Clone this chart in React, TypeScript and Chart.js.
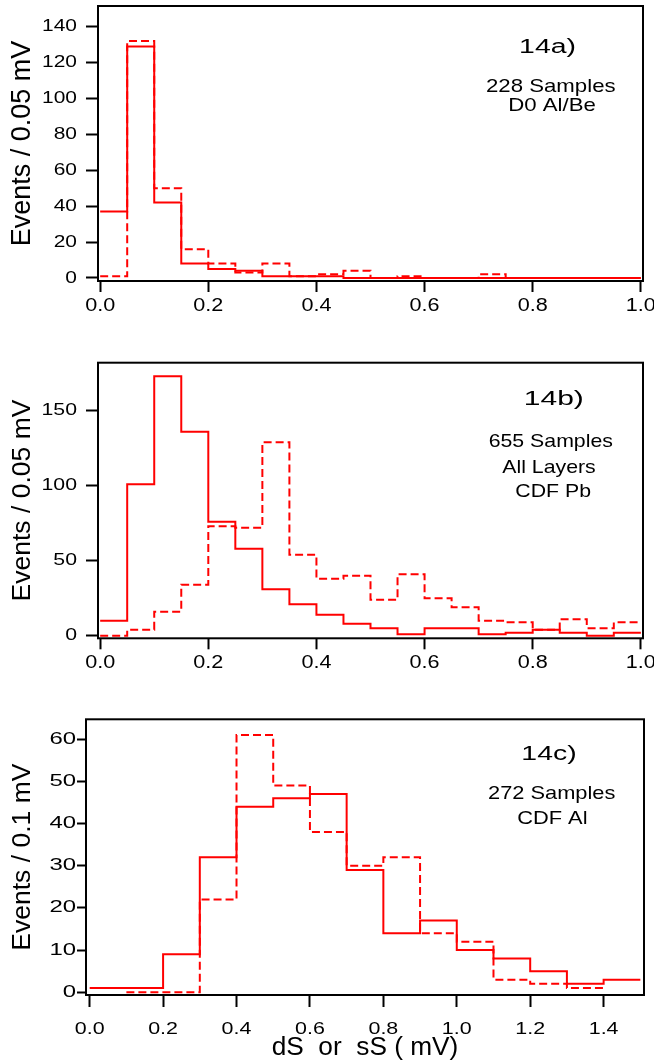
import React, { useEffect, useRef } from "react";
import { Chart, registerables } from "chart.js";

Chart.register(...registerables);

const FONT = '"Liberation Sans", Arial, Helvetica, sans-serif';
const RED = "#ff0000";

// ---------- Panel 14a ----------
const binWidthA = 0.05;
const solidA = [37, 129, 42, 8, 5, 4, 1, 1, 1, 0, 0, 0, 0, 0, 0, 0, 0, 0, 0, 0];
const dashedA = [1, 132, 50, 16, 8, 3, 8, 1, 2, 4, 0, 1, 0, 0, 2, 0, 0, 0, 0, 0];
const xTicksA = [0, 0.2, 0.4, 0.6, 0.8, 1.0];
const yTicksA = [0, 20, 40, 60, 80, 100, 120, 140];
const yTitleA = "Events / 0.05 mV";
const textA = ["14a)", "228 Samples", "D0 Al/Be"];

// ---------- Panel 14b ----------
const binWidthB = 0.05;
const solidB = [10, 101, 173, 136, 76, 58, 31, 21, 14, 8, 5, 1, 5, 5, 1, 2, 4, 2, 0, 2];
const dashedB = [0, 4, 16, 34, 73, 72, 129, 54, 38, 40, 24, 41, 25, 19, 10, 9, 4, 11, 5, 9];
const xTicksB = [0, 0.2, 0.4, 0.6, 0.8, 1.0];
const yTicksB = [0, 50, 100, 150];
const yTitleB = "Events / 0.05 mV";
const textB = ["14b)", "655 Samples", "All Layers", "CDF Pb"];

// ---------- Panel 14c ----------
const binWidthC = 0.1;
const solidC = [1, 1, 9, 32, 44, 46, 47, 29, 14, 17, 10, 8, 5, 2, 3];
const dashedC: (number | null)[] = [null, 0, 0, 22, 61, 49, 38, 30, 32, 14, 12, 3, 2, 1];
const xTicksC = [0, 0.2, 0.4, 0.6, 0.8, 1.0, 1.2, 1.4];
const yTicksC = [0, 10, 20, 30, 40, 50, 60];
const yTitleC = "Events / 0.1 mV";
const xTitleC = "dS  or  sS ( mV)";
const textC = ["14c)", "272 Samples", "CDF Al"];

function stepPoints(values: (number | null)[], width: number) {
  const pts: { x: number; y: number }[] = [];
  let last = -1;
  values.forEach((v, i) => {
    if (v !== null) {
      pts.push({ x: +(i * width).toFixed(4), y: v });
      last = i;
    }
  });
  if (last >= 0) pts.push({ x: +((last + 1) * width).toFixed(4), y: values[last] as number });
  return pts;
}

type Stretch = { yTick: number; xTick: number; big: number };

function installStretch(ctx: any, st: Stretch) {
  const orig = CanvasRenderingContext2D.prototype.fillText;
  ctx.fillText = function (text: string, x: number, y: number, maxWidth?: number) {
    const t = ctx.getTransform();
    let f = 1;
    if (Math.abs(t.b) < 1e-6) {
      const m = /(\d+(?:\.\d+)?)px/.exec(ctx.font);
      const px = m ? parseFloat(m[1]) : 12;
      if (ctx.textAlign === "right") f = st.yTick;
      else if (px >= 21) f = st.big;
      else f = st.xTick;
    }
    if (f === 1) {
      if (maxWidth === undefined) orig.call(ctx, text, x, y);
      else orig.call(ctx, text, x, y, maxWidth);
      return;
    }
    ctx.save();
    ctx.translate(x, y);
    ctx.scale(f, 1);
    if (maxWidth === undefined) orig.call(ctx, text, 0, 0);
    else orig.call(ctx, text, 0, 0, maxWidth / f);
    ctx.restore();
  };
}

const framePlugin = {
  id: "frame",
  afterDatasetsDraw(chart: any) {
    const { ctx, chartArea: a } = chart;
    ctx.save();
    ctx.strokeStyle = "#000";
    ctx.lineWidth = 2;
    ctx.setLineDash([]);
    ctx.strokeRect(a.left, a.top, a.right - a.left, a.bottom - a.top);
    ctx.restore();
  },
};

const textPlugin = {
  id: "panelText",
  afterDatasetsDraw(chart: any, _args: any, opts: any) {
    const { ctx, chartArea: a } = chart;
    const plain = CanvasRenderingContext2D.prototype.fillText;
    for (const it of opts.items || []) {
      const cx = a.left + it.fx * (a.right - a.left);
      const cy = a.top + it.fy * (a.bottom - a.top);
      ctx.save();
      ctx.font = `${it.size}px ${FONT}`;
      ctx.fillStyle = "#000";
      ctx.textAlign = "center";
      ctx.textBaseline = "alphabetic";
      ctx.translate(cx, cy + 0.358 * it.size);
      ctx.scale(it.sx, 1);
      plain.call(ctx, it.text, 0, 0);
      ctx.restore();
    }
  },
};

type Spec = {
  top: number;
  height: number;
  padTop: number;
  padRight: number;
  yAxisWidth: number;
  xAxisHeight: number;
  xMin: number;
  xMax: number;
  yMin: number;
  yMax: number;
  binWidth: number;
  solid: (number | null)[];
  dashed: (number | null)[];
  xTicks: number[];
  yTicks: number[];
  yTitle: string;
  yTitleSize: number;
  yTitlePad: number;
  yTickSize: number;
  yTickLen: number;
  yTickPad: number;
  xTickSize: number;
  xTickLen: number;
  xTickPad: number;
  xTitle?: string;
  xTitleSize?: number;
  xTitlePad?: number;
  stretch: Stretch;
  items: { text: string; fx: number; fy: number; size: number; sx: number }[];
};

const specs: Spec[] = [
  {
    top: 0, height: 335, padTop: 6, padRight: 11, yAxisWidth: 98, xAxisHeight: 54,
    xMin: -0.004, xMax: 1.004, yMin: -1.7, yMax: 151.5,
    binWidth: binWidthA, solid: solidA, dashed: dashedA, xTicks: xTicksA, yTicks: yTicksA,
    yTitle: yTitleA, yTitleSize: 27, yTitlePad: 6.3,
    yTickSize: 17, yTickLen: 12, yTickPad: 9,
    xTickSize: 18, xTickLen: 11, xTickPad: 3,
    stretch: { yTick: 1.23, xTick: 1.2, big: 1 },
    items: [
      { text: textA[0], fx: 0.8248, fy: 0.1465, size: 20, sx: 1.42 },
      { text: textA[1], fx: 0.8308, fy: 0.2884, size: 18.5, sx: 1.2 },
      { text: textA[2], fx: 0.833, fy: 0.3582, size: 18.5, sx: 1.2 },
    ],
  },
  {
    top: 335, height: 340, padTop: 27.7, padRight: 11, yAxisWidth: 98, xAxisHeight: 36.7,
    xMin: -0.004, xMax: 1.004, yMin: -1.7, yMax: 182,
    binWidth: binWidthB, solid: solidB, dashed: dashedB, xTicks: xTicksB, yTicks: yTicksB,
    yTitle: yTitleB, yTitleSize: 26.5, yTitlePad: 6.6,
    yTickSize: 17, yTickLen: 12, yTickPad: 9,
    xTickSize: 18, xTickLen: 11, xTickPad: 3,
    stretch: { yTick: 1.25, xTick: 1.2, big: 1 },
    items: [
      { text: textB[0], fx: 0.8363, fy: 0.1281, size: 20, sx: 1.5 },
      { text: textB[1], fx: 0.8308, fy: 0.2805, size: 18.5, sx: 1.15 },
      { text: textB[2], fx: 0.8275, fy: 0.3766, size: 18.5, sx: 1.15 },
      { text: textB[3], fx: 0.8352, fy: 0.4648, size: 18.5, sx: 1.15 },
    ],
  },
  {
    top: 675, height: 388, padTop: 44.3, padRight: 10, yAxisWidth: 86, xAxisHeight: 68,
    xMin: -0.01, xMax: 1.51, yMin: -0.64, yMax: 64.7,
    binWidth: binWidthC, solid: solidC, dashed: dashedC, xTicks: xTicksC, yTicks: yTicksC,
    yTitle: yTitleC, yTitleSize: 26.5, yTitlePad: 6.6,
    yTickSize: 16.5, yTickLen: 9, yTickPad: 1,
    xTickSize: 16.5, xTickLen: 12, xTickPad: 12.5,
    xTitle: xTitleC, xTitleSize: 25, xTitlePad: 0,
    stretch: { yTick: 1.45, xTick: 1.3, big: 1.05 },
    items: [
      { text: textC[0], fx: 0.8297, fy: 0.1204, size: 20, sx: 1.42 },
      { text: textC[1], fx: 0.8346, fy: 0.2662, size: 18.5, sx: 1.18 },
      { text: textC[2], fx: 0.8357, fy: 0.3555, size: 18.5, sx: 1.18 },
    ],
  },
];

function makeConfig(p: Spec): any {
  const lineBase = {
    borderColor: RED,
    borderWidth: 2,
    stepped: "before",
    pointRadius: 0,
    fill: false,
    borderJoinStyle: "miter",
    borderCapStyle: "butt",
  };
  return {
    type: "line",
    data: {
      datasets: [
        { ...lineBase, label: "solid", data: stepPoints(p.solid, p.binWidth) },
        { ...lineBase, label: "dashed", borderDash: [8, 4], data: stepPoints(p.dashed, p.binWidth) },
      ],
    },
    options: {
      animation: false,
      responsive: false,
      devicePixelRatio: 1,
      layout: { padding: { top: p.padTop, right: p.padRight, left: 0, bottom: 0 } },
      plugins: {
        legend: { display: false },
        tooltip: { enabled: false },
        panelText: { items: p.items },
      },
      scales: {
        x: {
          type: "linear",
          min: p.xMin,
          max: p.xMax,
          afterBuildTicks: (s: any) => {
            s.ticks = p.xTicks.map((v) => ({ value: v }));
          },
          afterFit: (s: any) => {
            s.height = p.xAxisHeight;
            s.paddingLeft = 0;
            s.paddingRight = 0;
          },
          ticks: {
            autoSkip: false,
            maxRotation: 0,
            padding: p.xTickPad,
            color: "#000",
            font: { family: FONT, size: p.xTickSize },
            callback: (v: any) => Number(v).toFixed(1),
          },
          grid: {
            display: true,
            drawOnChartArea: false,
            drawTicks: true,
            tickLength: p.xTickLen,
            tickWidth: 2,
            tickColor: "#000",
            color: "#000",
          },
          border: { display: false },
          title: p.xTitle
            ? {
                display: true,
                text: p.xTitle,
                color: "#000",
                font: { family: FONT, size: p.xTitleSize },
                padding: { top: 0, bottom: p.xTitlePad },
              }
            : { display: false },
        },
        y: {
          type: "linear",
          min: p.yMin,
          max: p.yMax,
          afterBuildTicks: (s: any) => {
            s.ticks = p.yTicks.map((v) => ({ value: v }));
          },
          afterFit: (s: any) => {
            s.width = p.yAxisWidth;
            s.paddingTop = 0;
            s.paddingBottom = 0;
          },
          ticks: {
            autoSkip: false,
            padding: p.yTickPad,
            color: "#000",
            font: { family: FONT, size: p.yTickSize },
            callback: (v: any) => String(v),
          },
          grid: {
            display: true,
            drawOnChartArea: false,
            drawTicks: true,
            tickLength: p.yTickLen,
            tickWidth: 2,
            tickColor: "#000",
            color: "#000",
          },
          border: { display: false },
          title: {
            display: true,
            text: p.yTitle,
            color: "#000",
            font: { family: FONT, size: p.yTitleSize },
            padding: { top: p.yTitlePad, bottom: 0 },
          },
        },
      },
    },
    plugins: [framePlugin, textPlugin],
  };
}

function Panel({ spec }: { spec: Spec }) {
  const ref = useRef<HTMLCanvasElement>(null);
  useEffect(() => {
    const canvas = ref.current;
    if (!canvas) return;
    const ctx: any = canvas.getContext("2d");
    installStretch(ctx, spec.stretch);
    const chart = new Chart(ctx, makeConfig(spec));
    return () => {
      chart.destroy();
      delete ctx.fillText;
    };
  }, [spec]);
  return (
    <canvas
      ref={ref}
      width={654}
      height={spec.height}
      style={{ position: "absolute", left: 0, top: spec.top, display: "block" }}
    />
  );
}

export default function App() {
  return (
    <div
      style={{
        position: "absolute",
        left: 0,
        top: 0,
        width: 654,
        height: 1063,
        background: "#fff",
        overflow: "hidden",
      }}
    >
      {specs.map((s, i) => (
        <Panel key={i} spec={s} />
      ))}
    </div>
  );
}
